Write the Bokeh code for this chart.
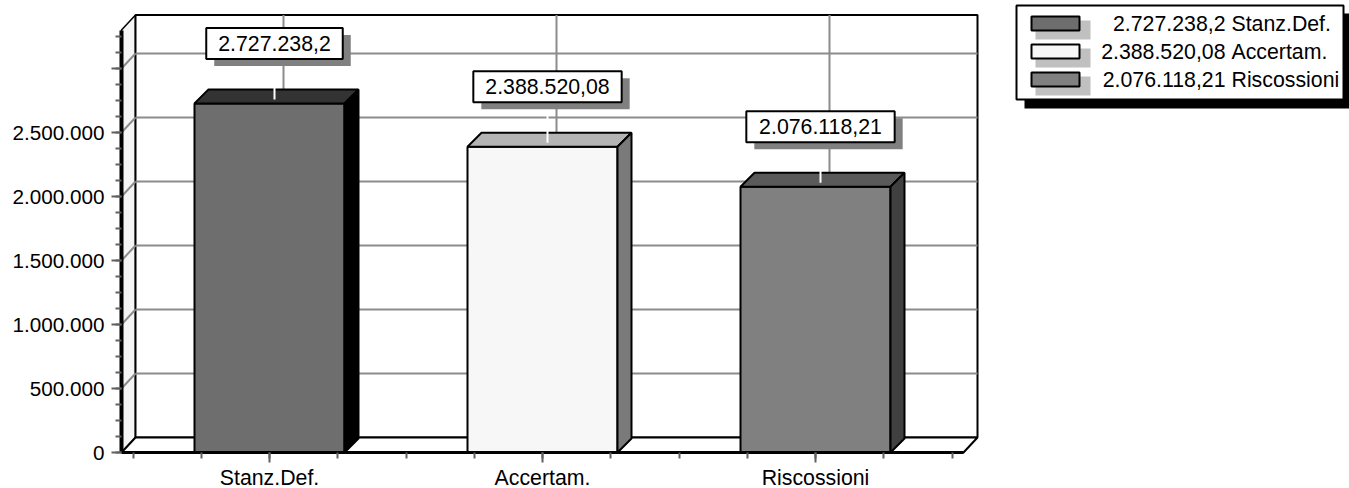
import numpy as np
from bokeh.plotting import figure
from bokeh.models import LinearAxis, FixedTicker, Range1d
from bokeh.core.properties import value
from bokeh.embed import file_html
from bokeh.resources import INLINE

# ---------------- data ----------------
categories = ["Stanz.Def.", "Accertam.", "Riscossioni"]
amounts = [2727238.2, 2388520.08, 2076118.21]
y_tick_values = [0, 500000, 1000000, 1500000, 2000000, 2500000, 3000000]
y_tick_labels = ["0", "500.000", "1.000.000", "1.500.000", "2.000.000", "2.500.000", ""]

# ---------------- styles ----------------
front_colors = ["#6e6e6e", "#f7f7f7", "#808080"]
top_colors = ["#333333", "#b4b4b4", "#5a5a5a"]
side_colors = ["#000000", "#7a7a7a", "#404040"]
FONT = "Liberation Sans"
FS_PX = 21.3
FS = f"{FS_PX}px"
FS_AX = "20.7px"
GRID = "#8c8c8c"
TICK = "#606060"


def it_num(v):
    ip, _, fp = repr(float(v)).partition(".")
    s = f"{int(ip):,}".replace(",", ".")
    if fp and fp != "0":
        s += "," + fp
    return s


def text_width(s, size):
    # Arial / Liberation Sans advance widths (per 1000 em)
    w = {".": 278, ",": 278, " ": 278}
    return sum(w.get(ch, 556) for ch in s) * size / 1000.0


# ---------------- layout (pixel geometry -> data units) ----------------
W, H = 1349, 488
CAT_PX = 273.0
VAL_PX = 128.0 / 1e6
CX_PAGE = 269.0
Y0_PAGE = 452.0


def X(px):
    return (px - CX_PAGE) / CAT_PX


def Y(py):
    return (Y0_PAGE - py) / VAL_PX


def DX(px):
    return px / CAT_PX


def DY(px):
    return px / VAL_PX


p = figure(width=W, height=H, x_range=Range1d(X(0), X(W)),
           y_range=Range1d(Y(H), Y(0)), output_backend="svg",
           toolbar_location=None, x_axis_type=None, y_axis_type=None,
           min_border=0, outline_line_color=None,
           background_fill_color="white", border_fill_color="white")

n = len(categories)
xs = list(range(n))
xl, xr = X(121), X(963)
wdx, wdy = DX(14), DY(15)
y_top = 3300000

# walls and floor
p.patch([xl, xl, xl + wdx, xl + wdx], [0, y_top, y_top + wdy, wdy],
        fill_color="#f5f5f5", line_color="black", line_width=1.5)
p.quad(left=[xl + wdx], right=[xr + wdx], bottom=[wdy], top=[y_top + wdy],
       fill_color="white", line_color="black", line_width=2)

# gridlines
gv = [v for v in y_tick_values if v > 0]
p.segment(x0=[xl] * len(gv), y0=gv, x1=[xl + wdx] * len(gv), y1=[v + wdy for v in gv],
          line_color=GRID, line_width=2)
p.segment(x0=[xl + wdx] * len(gv), y0=[v + wdy for v in gv], x1=[xr + wdx] * len(gv),
          y1=[v + wdy for v in gv], line_color=GRID, line_width=2)
p.segment(x0=[c + DX(14) for c in xs], y0=[wdy] * n, x1=[c + DX(14) for c in xs],
          y1=[y_top + wdy] * n, line_color=GRID, line_width=2)

p.patch([xl, xr, xr + wdx, xl + wdx], [0, 0, wdy, wdy],
        fill_color="white", line_color="black", line_width=2)

# 3D bars
bw = DX(150)
bdx, bdy = DX(14), DY(14)
x0 = [c - bw / 2 for c in xs]
x1 = [c + bw / 2 for c in xs]
p.quad(left=x0, right=x1, bottom=[0] * n, top=amounts, fill_color=front_colors,
       line_color="black", line_width=2)
p.patches(xs=[[a, b, b + bdx, a + bdx] for a, b in zip(x0, x1)],
          ys=[[v, v, v + bdy, v + bdy] for v in amounts],
          fill_color=top_colors, line_color="black", line_width=2)
p.patches(xs=[[b, b, b + bdx, b + bdx] for b in x1],
          ys=[[0, v, v + bdy, bdy] for v in amounts],
          fill_color=side_colors, line_color="black", line_width=2)

# leader lines
lx = [c + DX(5) for c in xs]
ly = [v + DY(60) for v in amounts]
p.segment(x0=lx, y0=ly, x1=lx, y1=[v + DY(4) for v in amounts],
          line_color="white", line_width=2)

# value labels: shadow, box, text
labels = [it_num(v) for v in amounts]
box_w = [text_width(s, FS_PX) + 24 for s in labels]
p.rect(x=[x + DX(8) for x in lx], y=[y - DY(7) for y in ly], width=box_w,
       height=[31] * n, width_units="screen", height_units="screen",
       fill_color="#808080", line_color=None)
p.rect(x=lx, y=ly, width=box_w, height=[31] * n, width_units="screen",
       height_units="screen", fill_color="white", line_color="black", line_width=2)
p.text(x=lx, y=ly, text=labels, text_align="center", text_baseline="middle",
       text_font=value(FONT), text_font_size=FS, text_color="black")

# legend (drawn)
p.quad(left=[X(1024)], right=[X(1360)], top=[Y(13)], bottom=[Y(108)],
       fill_color="black", line_color=None)
p.quad(left=[X(1016)], right=[X(1343)], top=[Y(5)], bottom=[Y(99)],
       fill_color="white", line_color="black", line_width=2)
rows = [23 + 28 * i for i in range(n)]
p.quad(left=[X(1035)] * n, right=[X(1090)] * n, top=[Y(r - 3) for r in rows],
       bottom=[Y(r + 16) for r in rows], fill_color="#c0c0c0", line_color=None)
p.quad(left=[X(1031)] * n, right=[X(1079)] * n, top=[Y(r - 7) for r in rows],
       bottom=[Y(r + 7) for r in rows], fill_color=front_colors, line_color="black",
       line_width=2)
p.text(x=[X(1225)] * n, y=[Y(r) for r in rows], text=labels,
       text_align="right", text_baseline="middle", text_font=value(FONT),
       text_font_size=FS, text_color="black")
p.text(x=[X(1231)] * n, y=[Y(r) for r in rows], text=categories,
       text_align="left", text_baseline="middle", text_font=value(FONT),
       text_font_size=FS, text_color="black")

# axes
y_minor = [float(t) for t in np.arange(0, y_top, 125000)]
yax = LinearAxis(fixed_location=xl, bounds=(0, y_top),
                 ticker=FixedTicker(ticks=y_tick_values, minor_ticks=y_minor),
                 major_label_overrides={t: l for t, l in zip(y_tick_values, y_tick_labels)},
                 axis_line_color="black", axis_line_width=4,
                 major_tick_line_color=TICK, major_tick_line_width=2,
                 major_tick_out=10, major_tick_in=0,
                 minor_tick_line_color=TICK, minor_tick_line_width=2,
                 minor_tick_out=6, minor_tick_in=0,
                 major_label_standoff=7,
                 major_label_text_font=FONT, major_label_text_font_size=FS_AX,
                 major_label_text_color="black")
p.add_layout(yax, "left")

x_minor = [float(t) for t in np.arange(-0.5, n - 0.5 + 0.01, 0.25)]
xax = LinearAxis(fixed_location=0, bounds=(xl, xr),
                 ticker=FixedTicker(ticks=xs, minor_ticks=x_minor),
                 major_label_overrides={i: c for i, c in zip(xs, categories)},
                 axis_line_color="black", axis_line_width=3,
                 major_tick_line_color=TICK, major_tick_line_width=2,
                 major_tick_out=10, major_tick_in=0,
                 minor_tick_line_color=TICK, minor_tick_line_width=2,
                 minor_tick_out=6, minor_tick_in=0,
                 major_label_standoff=3,
                 major_label_text_font=FONT, major_label_text_font_size=FS,
                 major_label_text_color="black")
p.add_layout(xax, "below")

open("out.html", "w").write(file_html(p, INLINE))
